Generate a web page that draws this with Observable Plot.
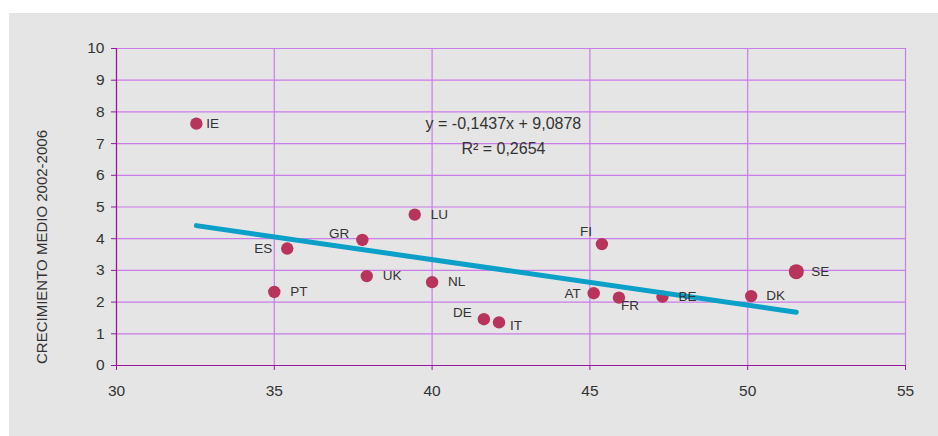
<!DOCTYPE html>
<html>
<head>
<meta charset="utf-8">
<script src="https://cdn.jsdelivr.net/npm/d3@7"></script>
<script src="https://cdn.jsdelivr.net/npm/@observablehq/plot@0.6"></script>
<style>
  html, body { margin: 0; padding: 0; background: #ffffff; }
  #panel { position: absolute; left: 9px; top: 13px; width: 929px; height: 423px; background: #e5e5e5; }
</style>
</head>
<body>
<div id="panel"></div>
<script>
// ---- data ----
const countries = ["IE", "ES", "PT", "GR", "UK", "LU", "NL", "DE", "IT", "FI", "AT", "FR", "BE", "DK", "SE"];
const xValues  = [32.53, 35.41, 35.00, 37.79, 37.93, 39.45, 40.00, 41.64, 42.12, 45.38, 45.12, 45.92, 47.30, 50.11, 51.54];
const yValues  = [7.63, 3.69, 2.32, 3.96, 2.82, 4.76, 2.63, 1.46, 1.36, 3.83, 2.28, 2.14, 2.17, 2.19, 2.96];
const xTicks = [30, 35, 40, 45, 50, 55];
const yTicks = [0, 1, 2, 3, 4, 5, 6, 7, 8, 9, 10];
const yLabel = "CRECIMIENTO MEDIO 2002-2006";
const slope = -0.1437;
const intercept = 9.0878;
const equationLines = ["y = -0,1437x + 9,0878", "R\u00B2 = 0,2654"];
const equationX = [42.26, 42.26];
const equationY = [7.61, 6.82];

// ---- rendering ----
const points = countries.map((c, i) => ({code: c, x: xValues[i], y: yValues[i]}));
const xMin = d3.min(xValues), xMax = d3.max(xValues);
const trend = [xMin, xMax].map(x => ({x, y: slope * x + intercept}));

const labelPlacement = {
  IE: [10, 0, "start"], ES: [-15, 0, "end"], PT: [16, 0, "start"], GR: [-13, -6, "end"],
  UK: [16, 0, "start"], LU: [16, 0, "start"], NL: [16, 0, "start"], DE: [-12, -7, "end"],
  IT: [11, 3, "start"], FI: [-10, -12, "end"], AT: [-13, 0, "end"], FR: [2, 8, "start"],
  BE: [16, 0, "start"], DK: [15, 0, "start"], SE: [15, 0, "start"]
};

const gridColor = "#c87de9";
const axisColor = "#98189a";
const textColor = "#333333";
const font = "'Liberation Sans', Arial, Helvetica, sans-serif";

const chart = Plot.plot({
  width: 929,
  height: 423,
  marginLeft: 107,
  marginRight: 33,
  marginTop: 35,
  marginBottom: 71,
  style: {background: "transparent", fontFamily: font, color: textColor, overflow: "visible"},
  x: {domain: [30, 55]},
  y: {domain: [0, 10]},
  r: {type: "identity"},
  marks: [
    Plot.gridX(xTicks, {stroke: gridColor, strokeOpacity: 1, strokeWidth: 1.2}),
    Plot.gridY(yTicks, {stroke: gridColor, strokeOpacity: 1, strokeWidth: 1.2}),
    Plot.ruleX([30], {stroke: axisColor, strokeWidth: 1.2}),
    Plot.ruleY([0], {stroke: axisColor, strokeWidth: 1.2}),
    Plot.axisX(xTicks, {tickSize: 5, tickPadding: 14, fontSize: 15.5, stroke: axisColor, fill: textColor, label: null, tickFormat: d => String(d)}),
    Plot.axisY(yTicks, {tickSize: 5, tickPadding: 7, fontSize: 15.5, stroke: axisColor, fill: textColor, label: null, tickFormat: d => String(d)}),
    Plot.text([yLabel], {frameAnchor: "left", text: d => d, rotate: -90, textAnchor: "middle", dx: -74, dy: 40, fontSize: 15, fill: textColor}),
    Plot.dot(points, {x: "x", y: "y", r: d => d.code === "SE" ? 7.5 : 6.2, fill: "#b8345c", stroke: "none"}),
    Plot.line(trend, {x: "x", y: "y", stroke: "#0aa0c8", strokeWidth: 5, strokeLinecap: "round"}),
    ...points.map(p => {
      const [dx, dy, anchor] = labelPlacement[p.code];
      return Plot.text([p], {x: "x", y: "y", text: "code", dx, dy, textAnchor: anchor, fontSize: 13.5, fill: textColor});
    }),
    Plot.text(equationLines, {x: (d, i) => equationX[i], y: (d, i) => equationY[i], text: d => d, fontSize: 16, fill: textColor})
  ]
});
chart.setAttribute("style", (chart.getAttribute("style") || "") + ";position:absolute;left:0;top:0;");
document.getElementById("panel").appendChild(chart);
</script>
</body>
</html>
